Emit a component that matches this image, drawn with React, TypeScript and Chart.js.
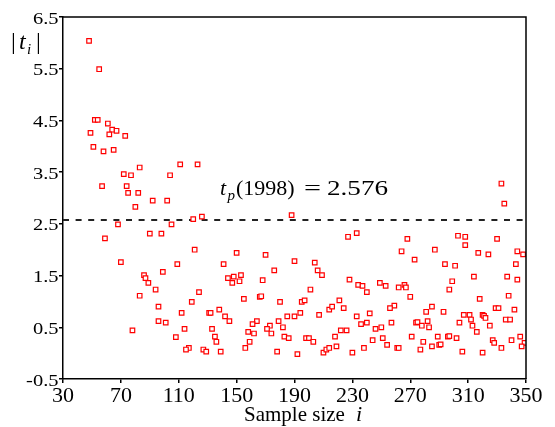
import React, { useEffect, useRef } from "react";
import { Chart, registerables } from "chart.js";

Chart.register(...registerables);

// Sample size i (x) and |t_i| (y)
const sampleSize: number[] = [
  48, 55, 52, 54, 61, 49, 64, 67, 62, 73, 51, 58, 65, 83, 111, 123, 72, 77, 104, 57,
  74, 75, 82, 92, 102, 80, 126, 120, 68, 105, 90, 98, 59,
  121, 70, 109, 99, 86, 87, 89, 94, 83, 124, 119, 96, 112, 96, 101, 78, 114, 108, 117, 115,
  150, 170, 141, 190, 204, 176, 206, 209, 144, 148, 153, 147, 152, 168, 201, 155, 166, 167,
  180, 195, 197, 214, 131, 132, 138, 207, 194, 142, 145, 185, 190, 164, 179, 161, 173, 171,
  182, 133, 158, 162, 174, 135, 136, 183, 186, 198, 200, 203, 159, 127, 129, 139, 156, 178,
  192, 210, 212, 214,
  188, 227, 233,
  333, 335, 268, 303, 308, 308, 330, 264, 287, 317, 324, 344, 348, 273, 294, 301, 343, 228,
  234, 237, 249, 253, 240, 262, 266, 267, 299, 297, 314, 337, 344, 270, 338, 318, 221, 216,
  224, 259, 256, 285, 281, 293, 329, 331, 342, 233, 242, 307, 311, 312, 320, 321, 322, 282,
  336, 339, 304, 313, 325, 236, 240, 257, 274, 275, 278, 283, 222, 226, 246, 250, 316, 218,
  271, 289, 296, 297, 302, 346, 244, 251, 279, 327, 328, 340, 349, 347, 254, 285, 290, 291,
  219, 238, 261, 262, 277, 230, 306, 320, 333,
];

const tValues: number[] = [
  6.04, 5.49, 4.51, 4.51, 4.44, 4.26, 4.32, 4.30, 4.23, 4.20, 3.99, 3.90, 3.93, 3.59, 3.65, 3.65, 3.46, 3.44, 3.44, 3.23,
  3.23, 3.10, 3.10, 2.95, 2.95, 2.83, 2.64, 2.59, 2.49, 2.49, 2.31, 2.31, 2.22,
  2.00, 1.76, 1.72, 1.57, 1.51, 1.45, 1.36, 1.23, 1.11, 1.18, 0.99, 0.90, 0.78, 0.62, 0.59, 0.44, 0.47, 0.31, 0.10, 0.07,
  1.94, 1.90, 1.72, 1.78, 1.75, 1.60, 1.60, 1.51, 1.45, 1.48, 1.51, 1.36, 1.39, 1.41, 1.23, 1.05, 1.09, 1.10,
  0.99, 0.99, 1.02, 0.84, 0.78, 0.78, 0.84, 0.74, 0.78, 0.71, 0.62, 0.71, 0.71, 0.62, 0.62, 0.56, 0.53, 0.47,
  0.50, 0.47, 0.41, 0.38, 0.38, 0.32, 0.22, 0.32, 0.29, 0.29, 0.29, 0.22, 0.22, 0.07, 0.03, 0.03, 0.10, 0.03,
  -0.02, 0.01, 0.07, 0.10,
  2.67, 2.25, 2.32,
  3.28, 2.89, 2.21, 2.27, 2.25, 2.09, 2.21, 1.97, 2.00, 1.94, 1.91, 1.97, 1.91, 1.81, 1.72, 1.69, 1.72, 1.42,
  1.32, 1.30, 1.36, 1.30, 1.18, 1.27, 1.32, 1.27, 1.39, 1.23, 1.48, 1.48, 1.42, 1.09, 1.11, 1.05, 1.02, 0.90,
  0.87, 0.92, 0.87, 0.90, 0.80, 0.80, 0.87, 0.87, 0.84, 0.71, 0.77, 0.74, 0.74, 0.65, 0.74, 0.72, 0.68, 0.62,
  0.65, 0.65, 0.59, 0.53, 0.53, 0.56, 0.59, 0.59, 0.59, 0.60, 0.53, 0.50, 0.44, 0.44, 0.47, 0.50, 0.41, 0.32,
  0.32, 0.32, 0.32, 0.33, 0.29, 0.32, 0.25, 0.29, 0.22, 0.25, 0.20, 0.25, 0.20, 0.13, 0.16, 0.13, 0.16, 0.17,
  0.13, 0.10, 0.10, 0.10, 0.07, 0.01, 0.03, 0.01, 0.10,
];

const xTicks: number[] = [30, 70, 110, 150, 190, 230, 270, 310, 350];
const yTicks: number[] = [-0.5, 0.5, 1.5, 2.5, 3.5, 4.5, 5.5, 6.5];
const criticalValue = 2.576;
const criticalLabelYear = "1998";

const SERIF = '"Liberation Serif", "Times New Roman", serif';

const decorPlugin = {
  id: "decor",
  beforeDatasetsDraw(chart: any) {
    const { ctx, chartArea, scales } = chart;
    const y = scales.y.getPixelForValue(criticalValue);
    ctx.save();
    ctx.strokeStyle = "#222";
    ctx.lineWidth = 2;
    ctx.setLineDash([6, 6.6]);
    ctx.beginPath();
    ctx.moveTo(chartArea.left, y);
    ctx.lineTo(chartArea.right, y);
    ctx.stroke();
    ctx.restore();
  },
  afterDraw(chart: any) {
    const { ctx, chartArea, scales } = chart;
    ctx.save();
    // top and right frame
    ctx.strokeStyle = "#000";
    ctx.lineWidth = 1.5;
    ctx.beginPath();
    ctx.moveTo(chartArea.left, chartArea.top);
    ctx.lineTo(chartArea.right, chartArea.top);
    ctx.lineTo(chartArea.right, chartArea.bottom);
    ctx.stroke();

    ctx.fillStyle = "#000";
    // y tick labels (wide serif)
    ctx.textAlign = "right";
    ctx.textBaseline = "alphabetic";
    ctx.font = `16.5px ${SERIF}`;
    for (const t of scales.y.ticks) {
      const py = scales.y.getPixelForValue(t.value);
      ctx.save();
      ctx.translate(58.5, py + 6.5);
      ctx.scale(1.24, 1);
      ctx.fillText(String(t.value.toFixed(1)), 0, 0);
      ctx.restore();
    }

    // y axis title |t_i|
    ctx.textAlign = "left";
    ctx.font = `24px ${SERIF}`;
    ctx.fillText("|", 11, 49);
    ctx.font = `italic 24px ${SERIF}`;
    ctx.fillText("t", 19, 49);
    ctx.font = `italic 15px ${SERIF}`;
    ctx.fillText("i", 27, 54);
    ctx.font = `24px ${SERIF}`;
    ctx.fillText("|", 36, 49);

    // x axis title
    ctx.font = `21px ${SERIF}`;
    ctx.fillText("Sample size", 244, 421);
    ctx.font = `italic 22px ${SERIF}`;
    ctx.fillText("i", 356, 421);

    // critical value annotation
    ctx.font = `italic 22px ${SERIF}`;
    ctx.fillText("t", 220, 195);
    ctx.font = `italic 15px ${SERIF}`;
    ctx.fillText("p", 227.5, 200);
    ctx.font = `22px ${SERIF}`;
    ctx.fillText(`(${criticalLabelYear})`, 236, 195);
    const eqW = ctx.measureText("=").width;
    ctx.save();
    ctx.translate(304, 195);
    ctx.scale(17 / eqW, 1);
    ctx.fillText("=", 0, 0);
    ctx.restore();
    const valText = criticalValue.toFixed(3);
    const valW = ctx.measureText(valText).width;
    ctx.save();
    ctx.translate(327, 195);
    ctx.scale(61 / valW, 1);
    ctx.fillText(valText, 0, 0);
    ctx.restore();

    ctx.restore();
  },
};

export default function App() {
  const canvasRef = useRef<HTMLCanvasElement | null>(null);

  useEffect(() => {
    document.body.style.margin = "0";
    const canvas = canvasRef.current;
    if (!canvas) return;
    const points = sampleSize.map((x, i) => ({ x, y: tValues[i] }));
    const chart = new Chart(canvas, {
      type: "scatter",
      data: {
        datasets: [
          {
            data: points,
            pointStyle: "rect",
            pointRadius: 3.2,
            pointHoverRadius: 3.2,
            borderWidth: 1.2,
            borderColor: "#ff0000",
            backgroundColor: "#ffffff",
          },
        ],
      },
      options: {
        responsive: false,
        animation: false,
        events: [],
        layout: { padding: { top: 17, right: 29, left: 0, bottom: 0 } },
        plugins: {
          legend: { display: false },
          tooltip: { enabled: false },
        },
        scales: {
          x: {
            type: "linear",
            min: 30,
            max: 350,
            afterBuildTicks: (scale: any) => {
              scale.ticks = xTicks.map((v) => ({ value: v }));
            },
            afterFit: (scale: any) => {
              scale.height = 48;
            },
            grid: {
              display: true,
              drawOnChartArea: false,
              drawTicks: true,
              tickLength: 4,
              color: "#000",
              lineWidth: 1.5,
            },
            border: { display: true, color: "#000", width: 1.5 },
            ticks: {
              color: "#000",
              font: { family: SERIF, size: 22 },
              padding: 0,
              maxRotation: 0,
              autoSkip: false,
            },
          },
          y: {
            type: "linear",
            min: -0.5,
            max: 6.5,
            afterBuildTicks: (scale: any) => {
              scale.ticks = yTicks.map((v) => ({ value: v }));
            },
            afterFit: (scale: any) => {
              scale.width = 63;
            },
            grid: {
              display: true,
              drawOnChartArea: false,
              drawTicks: true,
              tickLength: 4,
              color: "#000",
              lineWidth: 1.5,
            },
            border: { display: true, color: "#000", width: 1.5 },
            ticks: { display: false },
          },
        },
      },
      plugins: [decorPlugin],
    });
    return () => chart.destroy();
  }, []);

  return (
    <div style={{ width: 555, height: 427, background: "#fff" }}>
      <canvas ref={canvasRef} width={555} height={427} style={{ display: "block" }} />
    </div>
  );
}
